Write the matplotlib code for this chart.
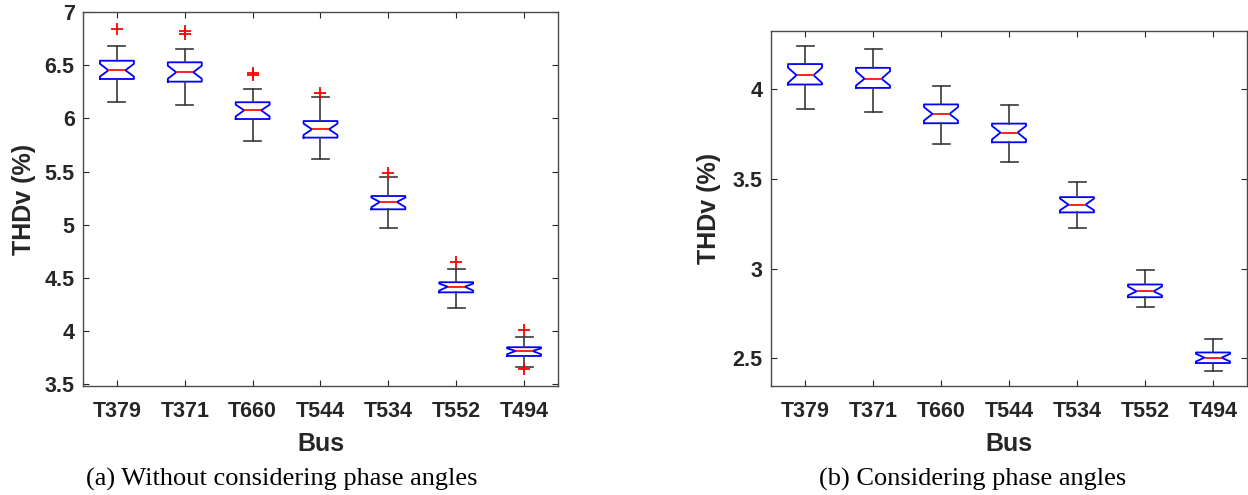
import matplotlib
matplotlib.use("Agg")
import matplotlib.pyplot as plt
from matplotlib.ticker import FuncFormatter

# ---- data -------------------------------------------------------------
buses = ["T379", "T371", "T660", "T544", "T534", "T552", "T494"]

# (a) THDv without considering phase angles
a_whislo = [6.155, 6.130, 5.788, 5.620, 4.969, 4.213, 3.660]
a_q1     = [6.372, 6.347, 5.995, 5.820, 5.145, 4.363, 3.764]
a_med    = [6.454, 6.435, 6.077, 5.898, 5.214, 4.416, 3.811]
a_q3     = [6.544, 6.529, 6.153, 5.976, 5.270, 4.458, 3.846]
a_whishi = [6.685, 6.657, 6.275, 6.200, 5.449, 4.586, 3.940]
a_cilo   = [6.395, 6.375, 6.020, 5.845, 5.165, 4.380, 3.780]
a_cihi   = [6.515, 6.497, 6.130, 5.952, 5.255, 4.445, 3.835]
a_fliers = [[6.84], [6.827, 6.80], [6.43, 6.41], [6.24], [5.49], [4.65], [4.01, 3.64]]
a_yticks = [3.5, 4, 4.5, 5, 5.5, 6, 6.5, 7]

# (b) THDv considering phase angles
b_whislo = [3.892, 3.871, 3.693, 3.596, 3.227, 2.784, 2.426]
b_q1     = [4.026, 4.007, 3.810, 3.704, 3.313, 2.840, 2.473]
b_med    = [4.078, 4.058, 3.862, 3.758, 3.356, 2.873, 2.503]
b_q3     = [4.140, 4.119, 3.915, 3.808, 3.398, 2.911, 2.532]
b_whishi = [4.240, 4.223, 4.017, 3.909, 3.482, 2.993, 2.609]
b_cilo   = [4.035, 4.020, 3.825, 3.720, 3.325, 2.850, 2.482]
b_cihi   = [4.120, 4.100, 3.900, 3.795, 3.390, 2.900, 2.524]
b_fliers = [[], [], [], [], [], [], []]
b_yticks = [2.5, 3, 3.5, 4]

captions = ["(a) Without considering phase angles", "(b) Considering phase angles"]

# ---- styling ----------------------------------------------------------
TXT = "#262626"
plt.rcParams["font.family"] = ["Liberation Sans", "DejaVu Sans"]
plt.rcParams["font.weight"] = "bold"


def make_stats(whislo, q1, med, q3, whishi, cilo, cihi, fliers):
    return [
        dict(label=b, whislo=wl, q1=a, med=m, q3=c, whishi=wh,
             cilo=cl, cihi=ch, fliers=f)
        for b, wl, a, m, c, wh, cl, ch, f in zip(
            buses, whislo, q1, med, q3, whishi, cilo, cihi, fliers)
    ]


def draw_panel(ax, stats, yticks, ylim):
    ax.bxp(
        stats,
        positions=range(1, len(stats) + 1),
        widths=0.5,
        shownotches=True,
        showfliers=True,
        boxprops=dict(color="#0000ff", linewidth=1.3),
        medianprops=dict(color="#ff2020", linewidth=1.4),
        whiskerprops=dict(color="#3a3a3a", linewidth=1.2),
        capprops=dict(color="#3a3a3a", linewidth=1.2),
        flierprops=dict(marker="+", markeredgecolor="red", markersize=8,
                        markeredgewidth=1.3, linestyle="none"),
    )
    ax.set_xlim(0.5, len(stats) + 0.5)
    ax.set_ylim(*ylim)
    ax.set_yticks(yticks)
    ax.yaxis.set_major_formatter(FuncFormatter(lambda v, _: f"{v:g}"))
    ax.tick_params(axis="both", direction="in", top=True, right=True,
                   length=4, width=0.8, color=TXT, labelcolor=TXT,
                   labelsize=15.5)
    ax.tick_params(axis="x", pad=11)
    ax.tick_params(axis="y", pad=6)
    for lab in ax.get_xticklabels() + ax.get_yticklabels():
        lab.set_fontweight("bold")
    for sp in ax.spines.values():
        sp.set_color("#4a4a4a")
        sp.set_linewidth(1.0)
    ax.set_xlabel("Bus", fontsize=18, fontweight="bold", color=TXT, va="center")
    ax.set_ylabel("THDv (%)", fontsize=18, fontweight="bold", color=TXT,
                  va="center", ha="center")


fig = plt.figure(figsize=(12.48, 4.95), dpi=100)
W, H = 1248.0, 495.0

ax_a = fig.add_axes([83 / W, 1 - 386 / H, (558 - 83) / W, (386 - 12.3) / H])
ax_b = fig.add_axes([771 / W, 1 - 386 / H, (1247 - 771) / W, (386 - 30.7) / H])

draw_panel(ax_a, make_stats(a_whislo, a_q1, a_med, a_q3, a_whishi,
                            a_cilo, a_cihi, a_fliers),
           a_yticks, (3.481, 7.0))
draw_panel(ax_b, make_stats(b_whislo, b_q1, b_med, b_q3, b_whishi,
                            b_cilo, b_cihi, b_fliers),
           b_yticks, (2.345, 4.326))

# axis label placement (axes fraction)
ax_a.xaxis.set_label_coords(0.5, (386 - 444) / (386 - 12.3))
ax_b.xaxis.set_label_coords(0.5, (386 - 444) / (386 - 30.7))
ax_a.yaxis.set_label_coords((24 - 83) / (558 - 83), 0.5)
ax_b.yaxis.set_label_coords((709 - 771) / (1247 - 771), 0.5)

# sub-figure captions
fig.text(282 / W, 1 - 479 / H, captions[0], fontsize=19,
         family=["Liberation Serif", "DejaVu Serif"], fontweight="normal",
         color="black", ha="center", va="center")
fig.text(973 / W, 1 - 479 / H, captions[1], fontsize=19,
         family=["Liberation Serif", "DejaVu Serif"], fontweight="normal",
         color="black", ha="center", va="center")

fig.savefig("out.png", dpi=100, facecolor="white")
